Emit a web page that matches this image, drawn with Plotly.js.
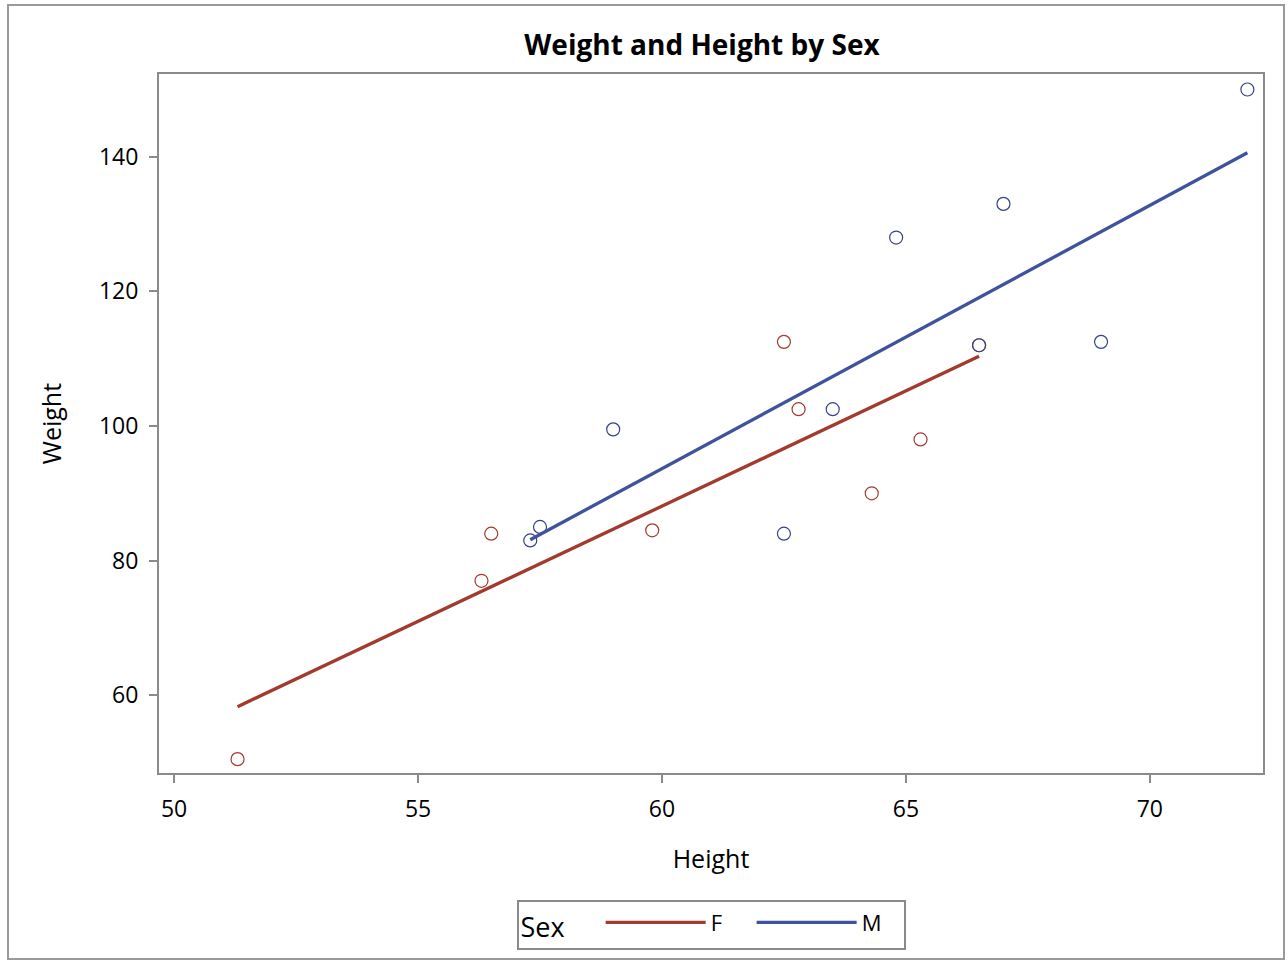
<!DOCTYPE html>
<html><head><meta charset="utf-8">
<script src="https://cdn.plot.ly/plotly-3.0.1.min.js"></script>
<style>
html,body{margin:0;padding:0;background:#fff;}
#frame{position:absolute;left:7px;top:4px;width:1274px;height:952px;border:2px solid #9a9a9a;pointer-events:none;z-index:5;}
#chart{position:absolute;left:0;top:0;width:1288px;height:962px;}
</style></head>
<body>
<div id="chart"></div><div id="frame"></div>
<script>
// SASHELP.CLASS data
const fHeight = [56.5, 65.3, 62.8, 59.8, 62.5, 51.3, 64.3, 56.3, 66.5];
const fWeight = [84.0, 98.0, 102.5, 84.5, 112.5, 50.5, 90.0, 77.0, 112.0];
const mHeight = [69.0, 63.5, 57.3, 62.5, 59.0, 72.0, 64.8, 67.0, 57.5, 66.5];
const mWeight = [112.5, 102.5, 83.0, 84.0, 99.5, 150.0, 128.0, 133.0, 85.0, 112.0];
// regression line endpoints
const fLineX = [51.3, 66.5];
const fLineY = [58.3, 110.35];
const mLineX = [57.3, 72.0];
const mLineY = [83.1, 140.6];
const xTicks = [50, 55, 60, 65, 70];
const yTicks = [60, 80, 100, 120, 140];

const red = '#A23A2E', blue = '#3E539B';
const traces = [
  {x: fHeight, y: fWeight, type: 'scatter', mode: 'markers', showlegend: false,
   marker: {symbol: 'circle-open', size: 13, color: red, line: {width: 1.2, color: red}}},
  {x: mHeight, y: mWeight, type: 'scatter', mode: 'markers', showlegend: false,
   marker: {symbol: 'circle-open', size: 13, color: '#35428a', line: {width: 1.2, color: '#35428a'}}},
  {x: fLineX, y: fLineY, type: 'scatter', mode: 'lines', name: 'F',
   line: {color: red, width: 3.3}},
  {x: mLineX, y: mLineY, type: 'scatter', mode: 'lines', name: 'M',
   line: {color: blue, width: 3.3}}
];
const font = '"Open Sans", sans-serif';
const layout = {
  width: 1288, height: 962,
  margin: {l: 159, r: 25, t: 74, b: 187},
  paper_bgcolor: 'rgba(0,0,0,0)', plot_bgcolor: '#fff',
  font: {family: font, color: '#000', size: 20},
  title: {text: '<b>Weight and Height by Sex</b>', xref: 'container', x: 0.545, xanchor: 'center', y: 0.953, yanchor: 'middle',
          font: {size: 28, family: font, color: '#000'}},
  xaxis: {range: [49.69, 72.32], tickvals: xTicks, ticks: 'outside', ticklen: 8, tickwidth: 2, tickcolor: '#8a8a8a',
          showgrid: false, zeroline: false, showline: true, linecolor: '#8a8a8a', linewidth: 2, mirror: true,
          ticklabelstandoff: 6,
          tickfont: {size: 23}, title: {text: 'Height', font: {size: 25}, standoff: 28}},
  yaxis: {range: [48.44, 152.3], tickvals: yTicks, ticks: 'outside', ticklen: 8, tickwidth: 2, tickcolor: '#8a8a8a',
          showgrid: false, zeroline: false, showline: true, linecolor: '#8a8a8a', linewidth: 2, mirror: true,
          ticklabelstandoff: 6,
          tickfont: {size: 23}, title: {text: 'Weight', font: {size: 25}, standoff: 30}},
  showlegend: true,
  legend: {orientation: 'h', x: 0.5, xanchor: 'center', y: -0.181, yanchor: 'top',
           bordercolor: '#8a8a8a', borderwidth: 2, bgcolor: '#fff', itemwidth: 100,
           entrywidth: 36, entrywidthmode: 'pixels',
           font: {size: 22}, title: {text: 'Sex    ', font: {size: 27}, side: 'left'},
           traceorder: 'normal'}
};
Plotly.newPlot('chart', traces, layout, {staticPlot: true, displayModeBar: false});
</script>
</body></html>
